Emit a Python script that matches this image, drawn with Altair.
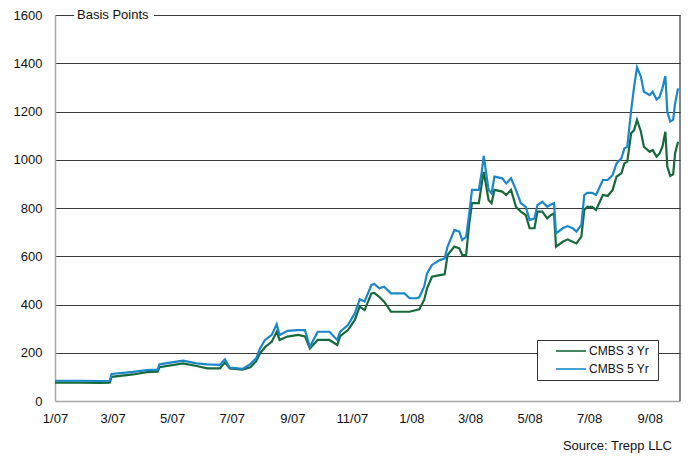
import altair as alt
import pandas as pd

FONT = "Liberation Sans"

dates = [
    "2007-01-01", "2007-01-26", "2007-02-16", "2007-02-26", "2007-02-28", "2007-03-22",
    "2007-04-05", "2007-04-16", "2007-04-18", "2007-05-12", "2007-05-26", "2007-06-06",
    "2007-06-19", "2007-06-24", "2007-06-29", "2007-07-12", "2007-07-20", "2007-07-26",
    "2007-07-30", "2007-08-04", "2007-08-11", "2007-08-16", "2007-08-19", "2007-08-27",
    "2007-09-07", "2007-09-14", "2007-09-19", "2007-09-27", "2007-10-09", "2007-10-17",
    "2007-10-20", "2007-10-28", "2007-11-04", "2007-11-09", "2007-11-14", "2007-11-21",
    "2007-11-24", "2007-11-29", "2007-12-04", "2007-12-11", "2007-12-25", "2007-12-30",
    "2008-01-06", "2008-01-09", "2008-01-14", "2008-01-17", "2008-01-22", "2008-01-30",
    "2008-02-04", "2008-02-07", "2008-02-14", "2008-02-19", "2008-02-22", "2008-02-26",
    "2008-02-29", "2008-03-03", "2008-03-10", "2008-03-13", "2008-03-15", "2008-03-20",
    "2008-03-23", "2008-03-26", "2008-04-03", "2008-04-07", "2008-04-12", "2008-04-17",
    "2008-04-22", "2008-04-27", "2008-05-01", "2008-05-06", "2008-05-09", "2008-05-14",
    "2008-05-19", "2008-05-23", "2008-05-26", "2008-05-28", "2008-06-04", "2008-06-09",
    "2008-06-14", "2008-06-18", "2008-06-23", "2008-06-26", "2008-06-29", "2008-07-04",
    "2008-07-08", "2008-07-15", "2008-07-20", "2008-07-25", "2008-07-29", "2008-08-03",
    "2008-08-06", "2008-08-09", "2008-08-13", "2008-08-16", "2008-08-19", "2008-08-23",
    "2008-08-26", "2008-09-01", "2008-09-04", "2008-09-08", "2008-09-11", "2008-09-14",
    "2008-09-17", "2008-09-19", "2008-09-22", "2008-09-25", "2008-09-27", "2008-09-30",
]

cmbs5 = [
    84, 84, 83, 84, 112, 121,
    128, 130, 152, 167, 156, 152,
    150, 173, 138, 133, 153, 177,
    218, 253, 274, 318, 273, 291,
    294, 294, 225, 287, 287, 253,
    287, 315, 363, 422, 412, 481,
    485, 467, 474, 446, 446, 426,
    426, 430, 474, 529, 564, 584,
    591, 640, 709, 702, 667, 681,
    771, 875, 875, 950, 1016, 875,
    860, 930, 923, 902, 923, 875,
    820, 805, 750, 757, 812, 826,
    805, 815, 820, 695, 716, 725,
    716, 702, 730, 854, 863, 863,
    854, 916, 916, 937, 985, 1006,
    1047, 1054, 1206, 1303, 1383, 1344,
    1282, 1268, 1282, 1250, 1260, 1296,
    1347, 1199, 1158, 1166, 1234, 1296,
]

cmbs3 = [
    76, 76, 75, 76, 100, 110,
    120, 122, 140, 156, 145, 135,
    135, 160, 135, 130, 140, 165,
    198, 223, 246, 287, 253, 267,
    274, 268, 218, 253, 253, 232,
    269, 294, 336, 391, 377, 446,
    448, 432, 412, 370, 370, 370,
    377, 380, 419, 467, 515, 522,
    525, 605, 640, 633, 605, 605,
    730, 820, 820, 900, 950, 833,
    820, 875, 868, 854, 875, 805,
    785, 771, 716, 716, 785, 785,
    757, 771, 778, 640, 660, 670,
    660, 653, 681, 792, 805, 805,
    792, 854, 850, 875, 930, 944,
    985, 992, 1110, 1123, 1165, 1116,
    1054, 1033, 1040, 1013, 1025, 1054,
    1116, 971, 933, 940, 1027, 1075,
]

series_names = ["CMBS  3 Yr", "CMBS  5 Yr"]
series_colors = ["#17693a", "#1b87c9"]
y_ticks = [0, 200, 400, 600, 800, 1000, 1200, 1400, 1600]
x_tick_months = [(2007, 1), (2007, 3), (2007, 5), (2007, 7), (2007, 9), (2007, 11),
                 (2008, 1), (2008, 3), (2008, 5), (2008, 7), (2008, 9)]
title_text = ["Basis Points"]
source_text = ["Source: Trepp LLC"]

n = len(dates)
df = pd.DataFrame({
    "date": dates + dates,
    "series": [series_names[0]] * n + [series_names[1]] * n,
    "value": cmbs3 + cmbs5,
})

W, H = 625, 386

x_enc = alt.X(
    "date:T",
    scale=alt.Scale(
        type="utc",
        domain=[alt.DateTime(year=2007, month=1, date=1, utc=True),
                alt.DateTime(year=2008, month=10, date=2, utc=True)],
    ),
    axis=alt.Axis(
        values=[alt.DateTime(year=y, month=m, date=1, utc=True) for y, m in x_tick_months],
        labelExpr="utcFormat(datum.value, '%-m/%y')",
        title=None, grid=False, ticks=False, domainColor="#a8a8a8", domainWidth=1.5,
        labelPadding=11, labelFontSize=13, labelFont=FONT, labelColor="#111",
        labelOverlap=False, labelFlush=False,
    ),
)

y_enc = alt.Y(
    "value:Q",
    scale=alt.Scale(domain=[0, 1600], nice=False),
    axis=alt.Axis(
        values=y_ticks, format="d", title=None, grid=True,
        gridColor={"condition": {"test": "datum.value === 0", "value": "transparent"}, "value": "#3a3a3a"},
        gridWidth=1.2, ticks=False, domainColor="#a8a8a8", domainWidth=1.5,
        labelPadding=13, labelFontSize=13, labelFont=FONT, labelColor="#111",
        labelFlush=False,
    ),
)

lines = alt.Chart(df).mark_line(strokeWidth=2.2, clip=True).encode(
    x=x_enc,
    y=y_enc,
    color=alt.Color(
        "series:N",
        scale=alt.Scale(domain=series_names, range=series_colors),
        legend=alt.Legend(
            orient="none", legendX=482, legendY=325, direction="vertical",
            title=None, fillColor="white", strokeColor="#333", padding=5,
            symbolType="M1.6,0H7.6", symbolSize=100, symbolStrokeWidth=1.6,
            labelOffset=35, rowPadding=6, labelFontSize=12, labelFont=FONT,
            labelColor="#111", labelExpr="datum.label + '      '",
        ),
    ),
)

one = pd.DataFrame({"t": title_text})
mask = alt.Chart(one).mark_rect(color="white").encode(
    x=alt.value(19), x2=alt.value(99), y=alt.value(-4), y2=alt.value(4)
)
title = alt.Chart(one).mark_text(
    align="left", baseline="middle", fontSize=13, font=FONT, color="#111"
).encode(x=alt.value(22), y=alt.value(0), text="t:N")

right_border = alt.Chart(one).mark_rule(color="#333", strokeWidth=1.2).encode(
    x=alt.value(W), y=alt.value(0), y2=alt.value(H)
)

src = alt.Chart(pd.DataFrame({"s": source_text})).mark_text(
    align="right", baseline="middle", fontSize=13, font=FONT, color="#111"
).encode(x=alt.value(617), y=alt.value(431), text="s:N")

chart = alt.layer(lines, right_border, mask, title, src).properties(
    width=W, height=H,
    autosize=alt.AutoSizeParams(type="none"),
    padding={"left": 47, "top": 7, "right": 4, "bottom": 54},
).configure_view(stroke=None)

chart.save("out.html", embed_options={"renderer": "svg", "actions": False})
